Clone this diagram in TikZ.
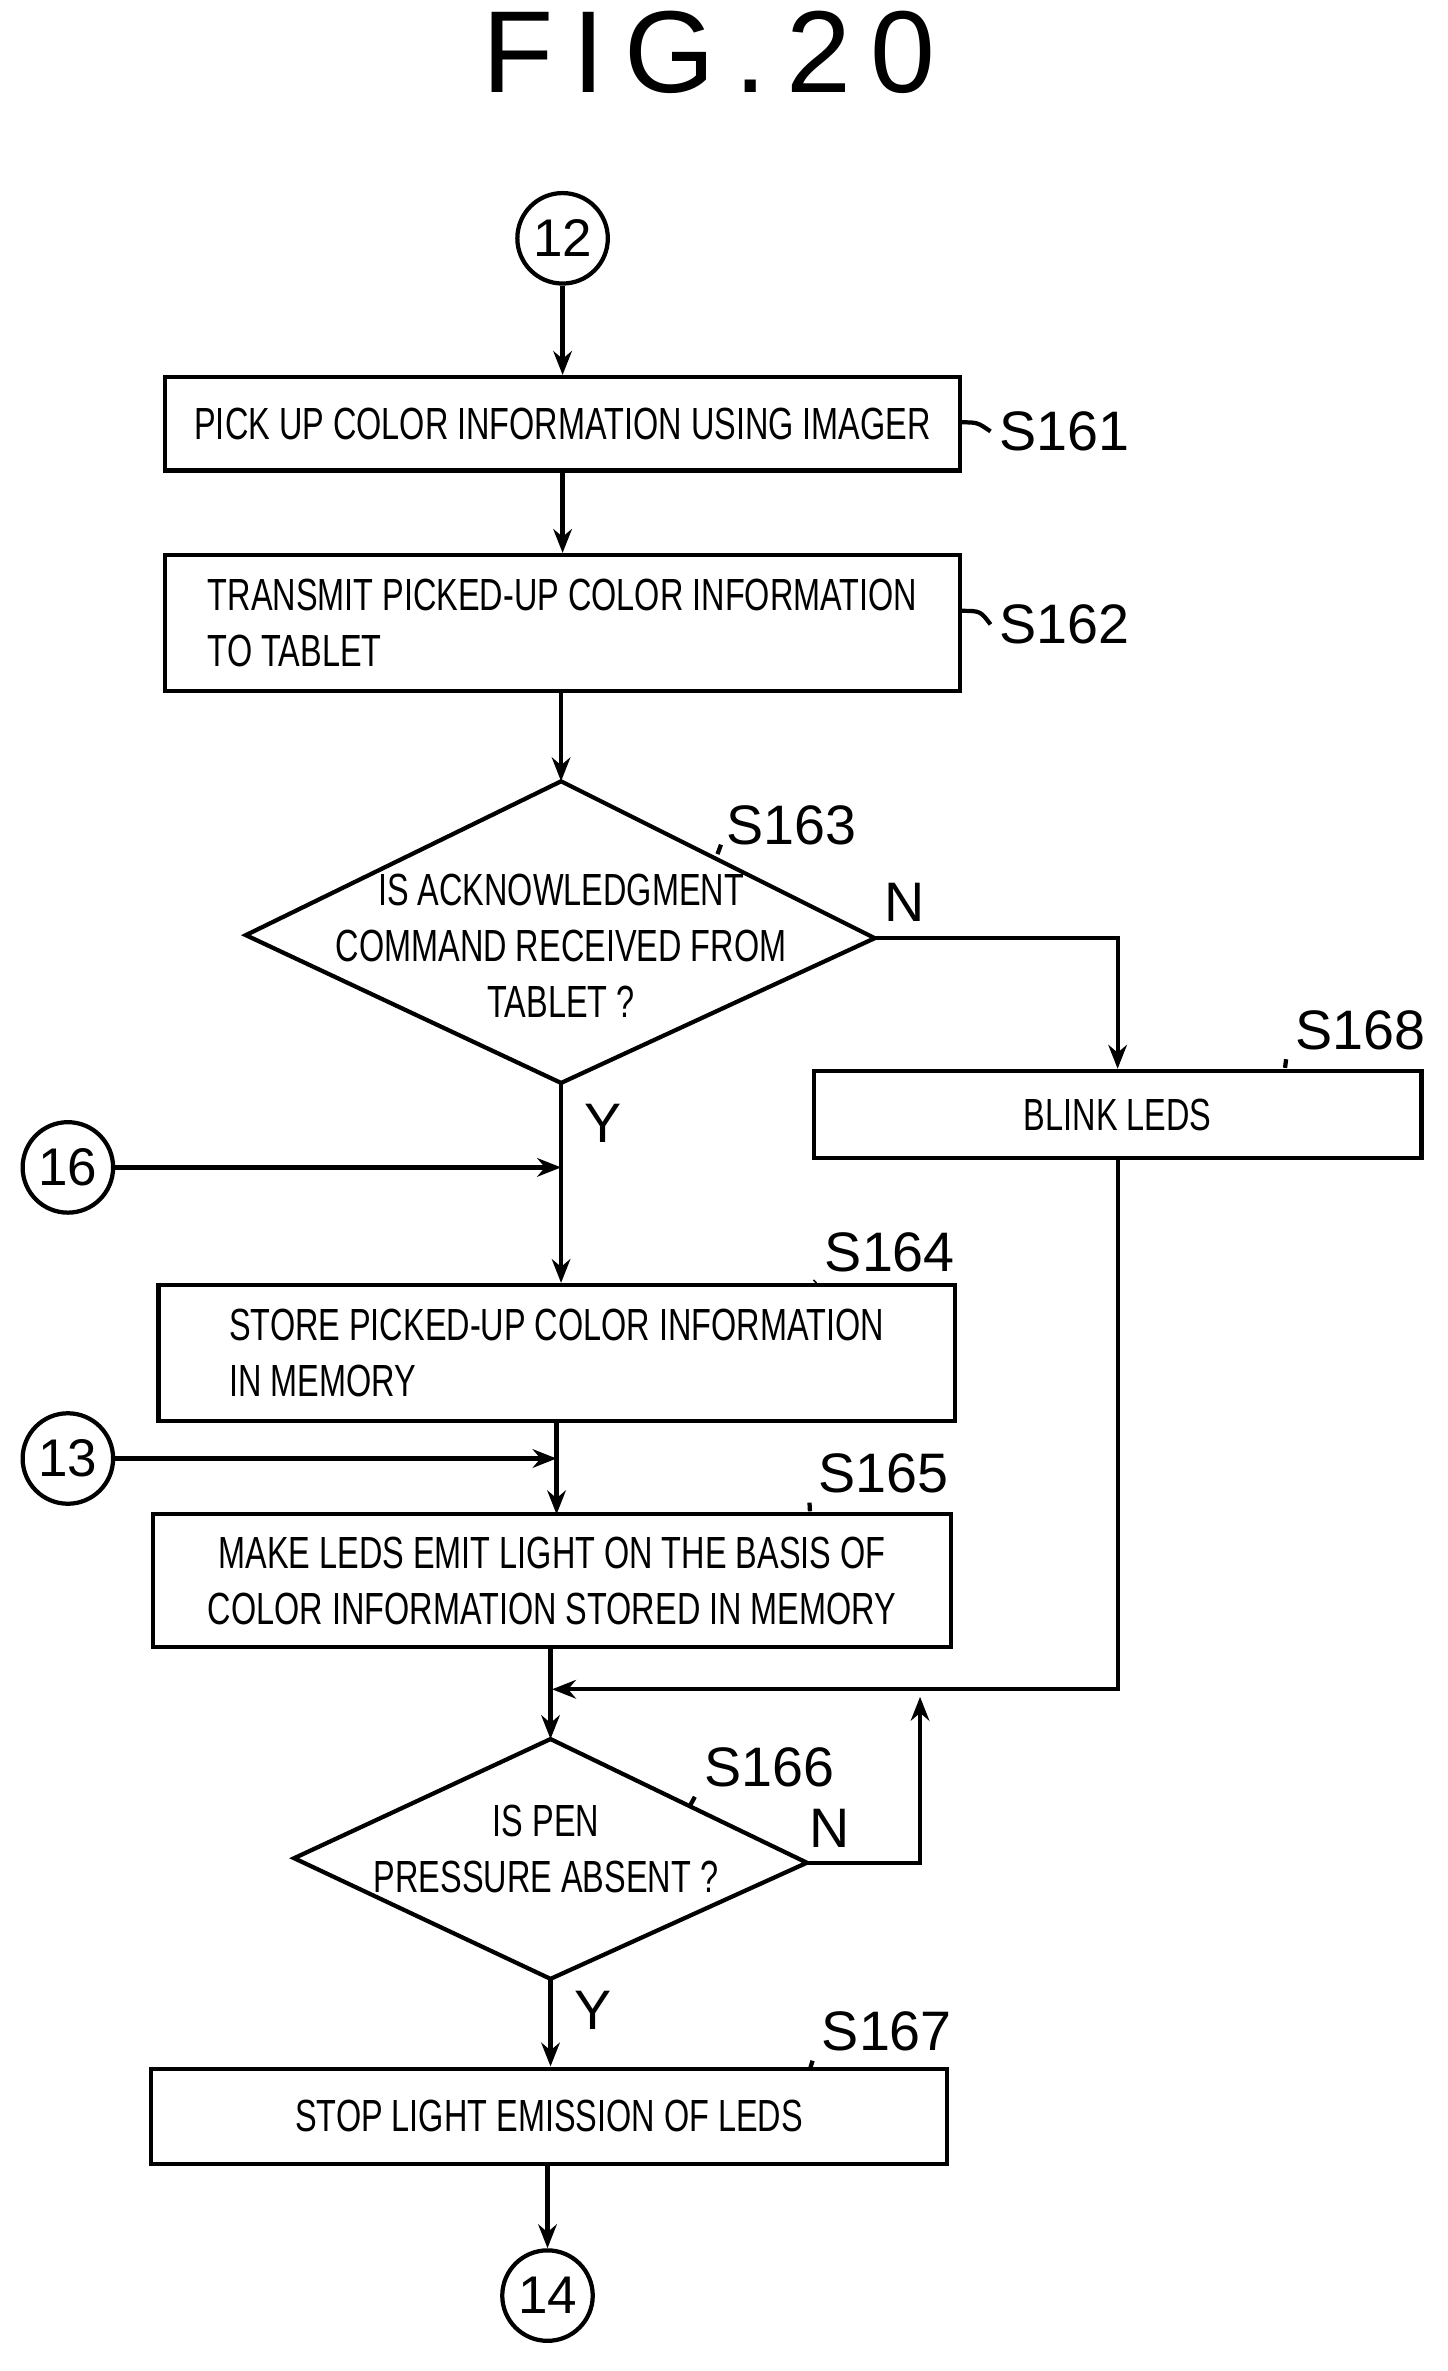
\documentclass[tikz,border=0pt]{standalone}
\usepackage{fontspec}
\setmainfont{Liberation Sans}
\newfontfamily\cond[FakeStretch=0.72]{Liberation Sans}
\usetikzlibrary{arrows.meta}
\begin{document}
\begin{tikzpicture}[x=0.02cm,y=-0.02cm,
box/.style = {% process steps
    draw, line width=1.6pt, font=\cond\fontsize{17}{21}\selectfont,
    inner sep=0pt, align=center,
            },
txt/.style = {font=\cond\fontsize{17}{21}\selectfont, align=center},
con/.style = {% connectors
    draw, circle, line width=1.6pt, minimum size=1.2cm, inner sep=0pt,
    font=\fontsize{20}{24}\selectfont,
            },
lab/.style = {font=\fontsize{21}{24}\selectfont},
arr/.style = {line width=1.6pt, -{Stealth[length=9pt,width=7pt]}},
ln/.style  = {line width=1.6pt},
                    ]
\useasboundingbox (0,0) rectangle (960,1572);

\node[font=\fontsize{44}{48}\selectfont] (title) at (470,35) {F\,I\,G\,.\,2\,0};

\node[con] (c12) at (373,158) {12};
\node[box, minimum width=10.54cm, minimum height=1.24cm] (s161) at (373,281)
  {PICK UP COLOR INFORMATION USING IMAGER};
\node[box, minimum width=10.54cm, minimum height=1.8cm, align=left] (s162) at (373,413)
  {TRANSMIT PICKED-UP COLOR INFORMATION\\TO TABLET};
% decision S163
\node[txt] (s163) at (372,627) {IS ACKNOWLEDGMENT\\COMMAND RECEIVED FROM\\TABLET ?};
\coordinate (s163n) at (372,518);
\coordinate (s163s) at (372,718);
\coordinate (s163w) at (163,620);
\coordinate (s163e) at (580,622);
\draw[ln] (s163n) -- (s163e) -- (s163s) -- (s163w) -- cycle;
\node[box, minimum width=8.06cm, minimum height=1.16cm] (s168) at (741,739)
  {BLINK LEDS};
\node[con] (c16) at (45,774) {16};
\node[box, minimum width=10.56cm, minimum height=1.8cm, align=left] (s164) at (369,897)
  {STORE PICKED-UP COLOR INFORMATION\\IN MEMORY};
\node[con] (c13) at (45,967) {13};
\node[box, minimum width=10.58cm, minimum height=1.76cm] (s165) at (366,1048)
  {MAKE LEDS EMIT LIGHT ON THE BASIS OF\\COLOR INFORMATION STORED IN MEMORY};
% decision S166
\node[txt] (s166) at (362,1226) {IS PEN\\PRESSURE ABSENT ?};
\coordinate (s166n) at (365,1153);
\coordinate (s166s) at (365,1312);
\coordinate (s166w) at (195,1232);
\coordinate (s166e) at (535,1235);
\draw[ln] (s166n) -- (s166e) -- (s166s) -- (s166w) -- cycle;
\node[box, minimum width=10.56cm, minimum height=1.26cm] (s167) at (364,1403)
  {STOP LIGHT EMISSION OF LEDS};
\node[con] (c14) at (363,1522) {14};

% step labels
\node[lab] (l161) at (706,286) {S161};
\node[lab] (l162) at (706,414) {S162};
\node[lab] (l163) at (525,547) {S163};
\node[lab] (l168) at (902,683) {S168};
\node[lab] (l164) at (590,830) {S164};
\node[lab] (l165) at (586,977) {S165};
\node[lab] (l166) at (510,1172) {S166};
\node[lab] (l167) at (588,1347) {S167};
\draw[ln] (637,280) .. controls (648,280) .. (l161.west);
\draw[ln] (637,405) .. controls (650,405) .. (l162.west);
\draw[ln] (478,560) -- (l163.south west);
\draw[ln] (852,708) -- (l168.south west);
\draw[ln] (540,850) -- (l164.south west);
\draw[ln] (537,1002) -- (l165.south west);
\draw[ln] (457,1198) -- (l166.south west);
\draw[ln] (537,1372) -- (l167.south west);

% flow
\draw[arr] (c12) -- (s161);
\draw[arr] (s161) -- (s162);
\draw[arr] (s162.south -| s163n) -- (s163n);
\draw[arr] (s163e) -| (s168.north);
\node[lab] (n1) at (600,598) {N};
\draw[arr] (s163s) -- (s164.north -| s163s);
\node[lab] (y1) at (400,745) {Y};
\draw[arr] (c16) -- (372,774);
\draw[arr] (369,942) -- (369,1004);
\draw[arr] (c13) -- (369,967);
\coordinate (m) at (366,1120);
\draw[arr] (s165.south -| s166n) -- (s166n);
\draw[arr] (s168.south) |- (m);
\draw[arr] (s166e) -| (610,1125);
\node[lab] (n2) at (550,1212) {N};
\draw[arr] (s166s) -- (s167.north -| s166s);
\node[lab] (y2) at (393,1333) {Y};
\draw[arr] (s167.south -| c14) -- (c14);
\end{tikzpicture}
\end{document}
